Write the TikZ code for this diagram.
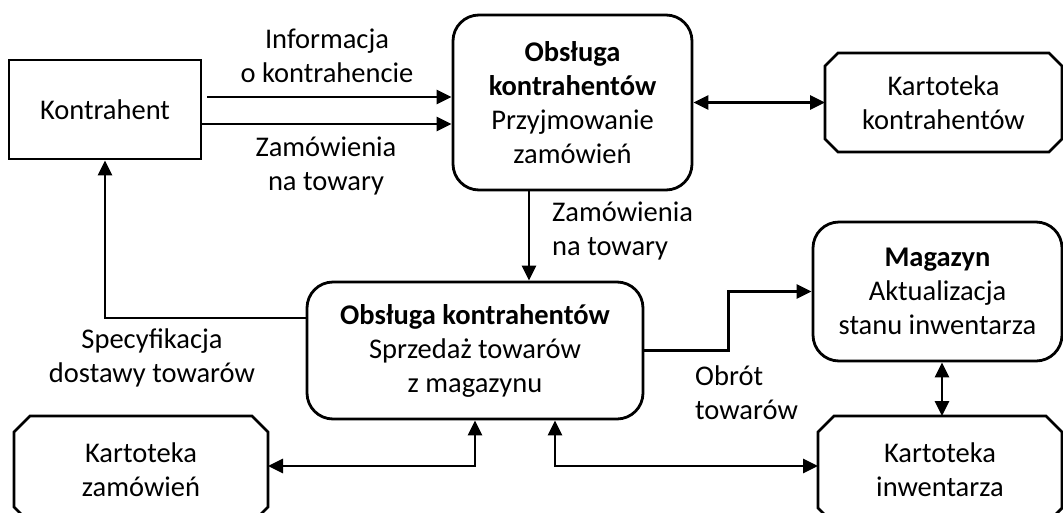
\documentclass[tikz,border=0pt]{standalone}
\usepackage{fontspec}
\setmainfont{Carlito}
\usetikzlibrary{arrows.meta}
\newcommand\storeoutline[2]{% #1 node name, #2 chamfer size
  \draw[line width=2.8pt, line join=miter]
    ([xshift=#2]#1.north west) -- ([xshift=-#2]#1.north east)
    -- ([yshift=-#2]#1.north east) -- ([yshift=#2]#1.south east)
    -- ([xshift=-#2]#1.south east) -- ([xshift=#2]#1.south west)
    -- ([yshift=#2]#1.south west) -- ([yshift=-#2]#1.north west) -- cycle;}
\begin{document}
\begin{tikzpicture}[x=1pt,y=-1pt,
  every node/.style={font=\fontsize{28.5}{34}\selectfont, align=center, inner sep=0pt},
  plainbox/.style={draw, line width=2.8pt, rectangle},
  procbox/.style={draw, line width=2.8pt, rectangle, rounded corners=26pt},
  storebox/.style={rectangle, outer sep=0pt},
  arr/.style={line width=2.8pt, -{Triangle[length=15pt,width=14pt]}},
  dbl/.style={line width=2.8pt, {Triangle[length=15pt,width=14pt]}-{Triangle[length=15pt,width=14pt]}}]

\fill[white] (0,0) rectangle (1063,512);
\useasboundingbox (0,0) rectangle (1063,512);

% external entity
\node[plainbox, minimum width=192pt, minimum height=99pt] (K) at (105,109.5) {Kontrahent};

% processes
\node[procbox, minimum width=239pt, minimum height=175pt] (P1) at (572.5,102.5)
  {\textbf{Obsługa}\\\textbf{kontrahentów}\\Przyjmowanie\\zamówień};
\node[procbox, minimum width=336pt, minimum height=137pt] (P2) at (475,350.5)
  {\textbf{Obsługa kontrahentów}\\Sprzedaż towarów\\z magazynu};
\node[procbox, minimum width=249pt, minimum height=139pt] (M) at (937.5,291.5)
  {\textbf{Magazyn}\\Aktualizacja\\stanu inwentarza};

% data stores
\node[storebox, minimum width=237pt, minimum height=99pt] (KK) at (943.5,102.5)
  {Kartoteka\\kontrahentów};
\node[storebox, minimum width=244pt, minimum height=108pt] (KI) at (940,470)
  {Kartoteka\\inwentarza};
\node[storebox, minimum width=254pt, minimum height=107pt] (KZ) at (141,469.5)
  {Kartoteka\\zamówień};
\storeoutline{KK}{13pt}
\storeoutline{KI}{16pt}
\storeoutline{KZ}{16pt}

% flow labels
\node (l1) at (327,56) {Informacja\\o kontrahencie};
\node (l2) at (326,166) {Zamówienia\\na towary};
\node[anchor=west, align=left] (l3) at (552,231) {Zamówienia\\na towary};
\node (l4) at (152,358) {Specyfikacja\\dostawy towarów};
\node[anchor=west, align=left] (l5) at (695,393) {Obrót\\towarów};

% flows
\draw[arr] ([shift={(5pt,12.5pt)}]K.east) -- ([yshift=12.5pt]K.east -| P1.west);
\draw[arr] ([yshift=-14.5pt]K.east) -- ([yshift=-14.5pt]K.east -| P1.west);
\draw[dbl] (P1.east) -- (P1.east -| KK.west);
\draw[arr] ([xshift=-43.5pt]P1.south) -- ([xshift=-43.5pt]P1.south |- P2.north);
\draw[arr] ([yshift=32.5pt]P2.west) -| (K.south);
\draw[arr] (P2.east) -- ++(84,0) |- (M.west);
\draw[dbl] ([xshift=4.5pt]M.south) -- ([xshift=4.5pt]M.south |- KI.north);
\draw[dbl] (P2.south) |- (KZ.east |- 0,466);
\draw[dbl] ([xshift=80pt]P2.south) |- (KI.west |- 0,466);
\end{tikzpicture}
\end{document}
